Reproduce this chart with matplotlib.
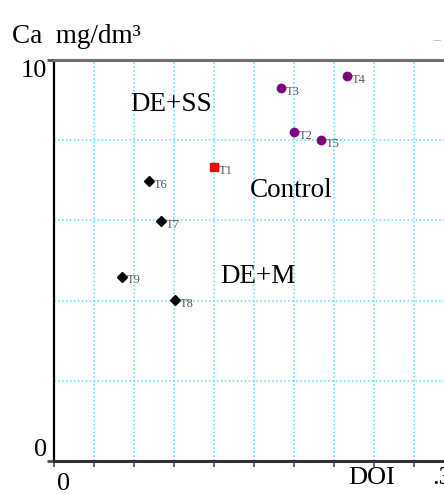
import numpy as np
import matplotlib
matplotlib.use('Agg')
import matplotlib.pyplot as plt

# treatments, DOI (x) and Ca mg/dm3 (y)
purple_names = ['T2', 'T3', 'T4', 'T5']
purple_x = [0.180, 0.170, 0.220, 0.200]
purple_y = [8.21, 9.30, 9.61, 8.00]

black_names = ['T6', 'T7', 'T8', 'T9']
black_x = [0.071, 0.080, 0.091, 0.051]
black_y = [6.99, 5.99, 4.01, 4.60]

ctrl_names = ['T1']
ctrl_x = [0.120]
ctrl_y = [7.33]

groups = ['DE+SS', 'Control', 'DE+M']
group_x = [0.0875, 0.178, 0.153]
group_y = [8.9, 6.75, 4.6]

xticks = np.arange(0, 0.28, 0.03)
ygrid = [2, 4, 6, 8]

serif = 'Liberation Serif'
W, H = 444, 494
fig = plt.figure(figsize=(W / 100, H / 100), dpi=100)
ax = fig.add_axes([54 / W, 33 / H, (W - 54) / W, 401 / H])
ax.set_xlim(0, 0.2925)
ax.set_ylim(0, 10)

# grid
for gx in xticks[1:]:
	ax.axvline(gx, color='#44e4f4', lw=1.1, ls=(0, (1, 1.6)), zorder=0)
for gy in ygrid:
	ax.axhline(gy, color='#44e4f4', lw=1.1, ls=(0, (1, 1.6)), zorder=0)

# spines
ax.spines['right'].set_visible(False)
ax.spines['top'].set_color('#707070')
ax.spines['top'].set_linewidth(2.2)
ax.spines['left'].set_color('black')
ax.spines['left'].set_linewidth(1.6)
ax.spines['bottom'].set_color('#303030')
ax.spines['bottom'].set_linewidth(2.2)

ax.set_xticks(xticks)
ax.set_xticklabels([])
ax.tick_params(axis='x', direction='out', length=4, width=1.2, color='#505050')
ax.set_yticks([0, 10])
ax.set_yticklabels(['0', '10'], fontfamily=serif, fontsize=19)
ax.tick_params(axis='y', direction='out', length=5, width=2, color='#505050', pad=0)
for lab, va in zip(ax.get_yticklabels(), ['bottom', 'top']):
	lab.set_verticalalignment(va)

# points
ax.plot(purple_x, purple_y, 'o', color='#800080', ms=6, zorder=3)
ax.plot(black_x, black_y, 'D', color='black', ms=5, zorder=3)
ax.plot(ctrl_x, ctrl_y, 's', color='#ff0000', ms=6, zorder=3)
for names, xs, ys in [(purple_names, purple_x, purple_y),
					  (black_names, black_x, black_y),
					  (ctrl_names, ctrl_x, ctrl_y)]:
	for n, x, y in zip(names, xs, ys):
		ax.annotate(n, (x, y), xytext=(3.5, 1.5), textcoords='offset points',
					va='top', ha='left', fontsize=9, color='#555555', fontfamily=serif)

for g, x, y in zip(groups, group_x, group_y):
	ax.text(x, y, g, fontsize=19.5, fontfamily=serif, ha='center', va='center')

# axis texts
ax.text(0.0075, -0.3, '0', fontsize=19, fontfamily=serif, ha='center', va='top', clip_on=False)
ax.text(0.2205, -0.15, 'DOI', fontsize=19, fontfamily=serif, ha='left', va='top', clip_on=False)
ax.text(0.2835, -0.15, '.3', fontsize=19, fontfamily=serif, ha='left', va='top', clip_on=False)
fig.text(12 / W, 1 - 43 / H, 'Ca  mg/dm³', fontsize=19.5, fontfamily=serif, va='baseline')
fig.text(433 / W, 1 - 44 / H, '–', fontsize=10, color='#aaaaaa', fontfamily=serif)

fig.savefig('out.png', dpi=100)
